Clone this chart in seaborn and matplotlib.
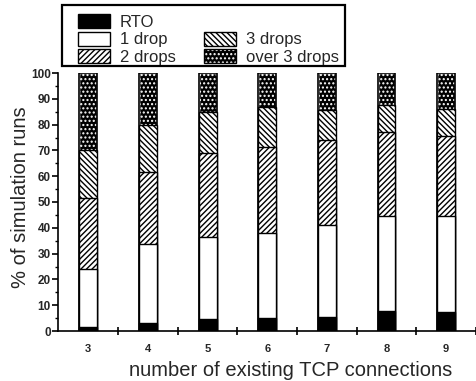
import matplotlib
matplotlib.use("Agg")
import matplotlib.pyplot as plt
import seaborn as sns
import numpy as np
import pandas as pd
from matplotlib.patches import Patch, Rectangle

# ---- data ----
connections = ["3", "4", "5", "6", "7", "8", "9"]
rto         = [1.7, 3.0, 4.7, 5.0, 5.6, 7.9, 7.5]
one_drop    = [22.4, 30.6, 31.9, 32.9, 35.5, 36.5, 37.2]
two_drops   = [27.4, 28.0, 32.4, 33.6, 33.0, 32.9, 31.0]
three_drops = [18.5, 18.3, 15.7, 15.5, 11.7, 10.4, 10.3]
over_three  = [30.0, 20.1, 15.3, 13.0, 14.2, 12.3, 14.0]
series_labels = ["RTO", "1 drop", "2 drops", "3 drops", "over 3 drops"]
y_ticks = list(range(0, 101, 10))

sns.set_theme(style="white")
plt.rcParams["font.family"] = ["Liberation Sans", "DejaVu Sans"]
plt.rcParams["hatch.linewidth"] = 1.0

W, H = 477, 381
fig = plt.figure(figsize=(W / 100, H / 100), dpi=100)
ax = fig.add_axes([58.5 / W, 1 - 331 / H, (476 - 58.5) / W, (331 - 73) / H])

layers = [rto, one_drop, two_drops, three_drops, over_three]
cum = np.cumsum(np.array(layers), axis=0)
df = pd.DataFrame({"conn": connections})
for i, name in enumerate(series_labels):
    df[name] = cum[i]

styles = {
    "RTO": dict(face="black", edge="black", hatch=None),
    "1 drop": dict(face="white", edge="black", hatch=None),
    "2 drops": dict(face="white", edge="black", hatch="//////"),
    "3 drops": dict(face="white", edge="black", hatch="\\\\\\\\\\\\"),
    "over 3 drops": dict(face="black", edge="white", hatch="...."),
}

BW = 0.3
# draw from tallest cumulative to smallest so lower layers sit on top
for name in reversed(series_labels):
    st = styles[name]
    n0 = len(ax.patches)
    sns.barplot(data=df, x="conn", y=name, color=st["face"], saturation=1,
                width=BW, ax=ax, edgecolor=st["edge"], linewidth=1.0)
    for p in ax.patches[n0:]:
        p.set_facecolor(st["face"])
        p.set_edgecolor(st["edge"])
        if st["hatch"]:
            p.set_hatch(st["hatch"])
    if name == "over 3 drops":
        n1 = len(ax.patches)
        sns.barplot(data=df, x="conn", y=name, color="black", saturation=1,
                    width=BW, ax=ax, fill=False, linewidth=1.2)
        for p in ax.patches[n1:]:
            p.set_facecolor("none")
            p.set_edgecolor("black")

ax.set_xlim(-0.5, 6.5)
ax.set_ylim(0, 100)
ax.set_yticks(y_ticks)
ax.set_yticklabels([str(v) for v in y_ticks], fontsize=8.5, fontweight="bold")
ax.set_yticks(np.arange(5, 100, 10), minor=True)
ax.set_xticks(range(len(connections)))
ax.set_xticklabels(connections, fontsize=8, fontweight="bold")
ax.set_xticks(np.arange(0.5, 7, 1.0), minor=True)
ax.tick_params(axis="x", which="major", length=0, pad=9)
ax.tick_params(axis="x", which="minor", direction="inout", length=6, width=1.2, color="black")
ax.tick_params(axis="y", which="major", direction="out", length=4, width=1.2, color="black", pad=1.5)
ax.tick_params(axis="y", which="minor", direction="out", length=2, width=1.0, color="black")
ax.tick_params(left=True, bottom=True, which="both")
ax.set_xlabel("number of existing TCP connections", fontsize=14.5)
ax.set_ylabel("% of simulation runs", fontsize=14.5)
ax.xaxis.set_label_coords(0.555, -0.115)
ax.yaxis.set_label_coords(-0.068, 0.52)

sns.despine(ax=ax, top=True, right=True)
for s in ("left", "bottom"):
    ax.spines[s].set_color("black")
    ax.spines[s].set_linewidth(1.2)

# legend
def handle(name):
    st = styles[name]
    if name == "over 3 drops":
        return (Patch(facecolor="black", edgecolor="white", hatch=st["hatch"], linewidth=0),
                Patch(facecolor="none", edgecolor="black", linewidth=1.0))
    return Patch(facecolor=st["face"], edgecolor="black", hatch=st["hatch"], linewidth=1.0)

blank = Patch(visible=False)
handles = [handle("RTO"), handle("1 drop"), handle("2 drops"),
           blank, handle("3 drops"), handle("over 3 drops")]
labels = ["RTO", "1 drop", "2 drops", "", "3 drops", "over 3 drops"]
leg = fig.legend(handles, labels, ncol=2, loc="upper left",
                 bbox_to_anchor=(78 / W, 1 - 14 / H), bbox_transform=fig.transFigure,
                 fontsize=12, frameon=False, borderpad=0,
                 handlelength=1.9, handleheight=0.9, labelspacing=0.12,
                 columnspacing=1.7, handletextpad=0.6, borderaxespad=0)
# legend frame (box drawn around the legend as in the reference)
fig.add_artist(Rectangle((62 / W, 1 - 66 / H), (345 - 62) / W, (66 - 5) / H,
                         transform=fig.transFigure, facecolor="none",
                         edgecolor="black", linewidth=1.6, zorder=5))

fig.savefig("out.png", dpi=100)
